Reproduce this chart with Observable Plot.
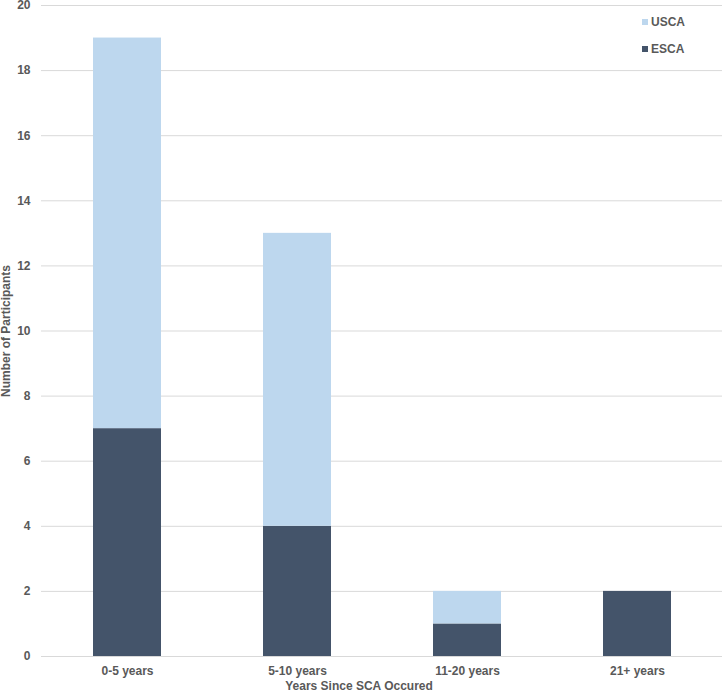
<!DOCTYPE html>
<html>
<head>
<meta charset="utf-8">
<script src="https://cdn.jsdelivr.net/npm/d3@7"></script>
<script src="https://cdn.jsdelivr.net/npm/@observablehq/plot@0.6"></script>
<style>
  html, body { margin: 0; padding: 0; background: #fff; }
  #wrap { position: relative; width: 722px; height: 692px; font-family: "Liberation Sans", Arial, sans-serif; }
  #wrap svg { overflow: visible; }
  #legend { position: absolute; left: 642px; top: 13px; font: bold 12px "Liberation Sans", Arial, sans-serif; color: #595959; }
  #legend .item { display: flex; align-items: center; height: 18px; margin-bottom: 9px; }
  #legend .sw { width: 6px; height: 6px; margin-right: 3px; }
</style>
</head>
<body>
<div id="wrap"><div id="legend"></div></div>
<script>
const categories = ["0-5 years", "5-10 years", "11-20 years", "21+ years"];
const escaValues = [7, 4, 1, 2];
const uscaValues = [12, 9, 1, 0];
const seriesNames = ["ESCA", "USCA"];
const seriesColors = ["#44546A", "#BDD7EE"];
const yTicks = [0, 2, 4, 6, 8, 10, 12, 14, 16, 18, 20];
const xTitle = "Years Since SCA Occured";
const yTitle = "Number of Participants";

const data = [];
categories.forEach((c, i) => {
  data.push({cat: c, series: "ESCA", value: escaValues[i]});
  data.push({cat: c, series: "USCA", value: uscaValues[i]});
});

const textColor = "#595959";
const chart = Plot.plot({
  width: 722,
  height: 692,
  marginLeft: 41,
  marginRight: 0,
  marginTop: 5,
  marginBottom: 36,
  style: {fontFamily: "Liberation Sans, Arial, sans-serif", fontSize: "12px", fontWeight: "bold", color: textColor, background: "#fff", overflow: "visible"},
  x: {domain: categories, paddingInner: 0.6, paddingOuter: 0.3},
  y: {domain: [0, 20]},
  color: {domain: seriesNames, range: seriesColors},
  marks: [
    Plot.gridY(yTicks, {stroke: "#d9d9d9", strokeOpacity: 1, strokeWidth: 1}),
    Plot.barY(data, {x: "cat", y: "value", fill: "series", order: seriesNames}),
    Plot.axisY(yTicks, {tickSize: 0, tickPadding: 11, label: null, fill: textColor, fontWeight: "bold"}),
    Plot.axisX({tickSize: 0, tickPadding: 10, label: null, fill: textColor, fontWeight: "bold"}),
    Plot.text([xTitle], {frameAnchor: "bottom", dx: -23, dy: 30, textAnchor: "middle", lineAnchor: "middle", fill: textColor, fontWeight: "bold", fontSize: 12}),
    Plot.text([yTitle], {frameAnchor: "left", dx: -35, rotate: -90, textAnchor: "middle", lineAnchor: "middle", fill: textColor, fontWeight: "bold", fontSize: 12})
  ]
});
const wrap = document.getElementById("wrap");
wrap.insertBefore(chart, wrap.firstChild);

const legend = document.getElementById("legend");
["USCA", "ESCA"].forEach(name => {
  const item = document.createElement("div");
  item.className = "item";
  const sw = document.createElement("span");
  sw.className = "sw";
  sw.style.background = seriesColors[seriesNames.indexOf(name)];
  const lbl = document.createElement("span");
  lbl.textContent = name;
  item.appendChild(sw);
  item.appendChild(lbl);
  legend.appendChild(item);
});
</script>
</body>
</html>
